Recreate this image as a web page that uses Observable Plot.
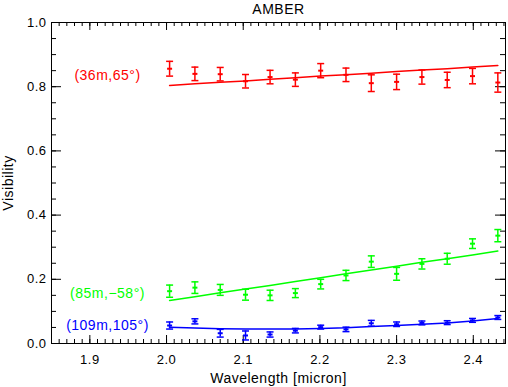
<!DOCTYPE html>
<html>
<head>
<meta charset="utf-8">
<script src="https://cdn.jsdelivr.net/npm/d3@7"></script>
<script src="https://cdn.jsdelivr.net/npm/@observablehq/plot@0.6"></script>
<style>
  html, body { margin: 0; padding: 0; background: #fff; }
  svg { font-family: "Liberation Sans", Arial, sans-serif; }
</style>
</head>
<body>
<div id="chart"></div>
<script>
// Wavelength grid (micron)
const wavelength = [2.004, 2.037, 2.070, 2.103, 2.135, 2.168, 2.201, 2.234, 2.267, 2.300, 2.333, 2.366, 2.399, 2.432];

// Series labels and colors
const seriesNames = ["(36m,65°)", "(85m,−58°)", "(109m,105°)"];
const seriesColors = ["#ff0000", "#00ff00", "#0000ff"];
const labelX = [1.923, 1.923, 1.923];
const labelY = [0.835, 0.156, 0.056];

// Measured visibilities and errors
const visRed   = [0.856, 0.840, 0.839, 0.817, 0.830, 0.822, 0.850, 0.837, 0.811, 0.815, 0.830, 0.821, 0.833, 0.813];
const errRed   = [0.023, 0.021, 0.021, 0.021, 0.021, 0.021, 0.022, 0.021, 0.026, 0.024, 0.022, 0.024, 0.024, 0.030];
const visGreen = [0.163, 0.174, 0.167, 0.152, 0.150, 0.157, 0.185, 0.212, 0.255, 0.217, 0.248, 0.264, 0.311, 0.336];
const errGreen = [0.019, 0.018, 0.017, 0.017, 0.016, 0.014, 0.015, 0.016, 0.018, 0.020, 0.016, 0.017, 0.015, 0.019];
const visBlue  = [0.056, 0.069, 0.032, 0.025, 0.028, 0.040, 0.051, 0.044, 0.063, 0.060, 0.064, 0.065, 0.072, 0.081];
const errBlue  = [0.011, 0.008, 0.012, 0.014, 0.008, 0.007, 0.006, 0.007, 0.009, 0.007, 0.006, 0.006, 0.006, 0.006];

// Model curves
const modelRed   = [0.804, 0.809, 0.814, 0.818, 0.823, 0.828, 0.833, 0.837, 0.842, 0.847, 0.852, 0.856, 0.861, 0.866];
const modelGreen = [0.134, 0.146, 0.158, 0.170, 0.181, 0.193, 0.205, 0.217, 0.229, 0.241, 0.253, 0.264, 0.276, 0.288];
const modelBlue  = [0.051, 0.048, 0.046, 0.045, 0.045, 0.045, 0.047, 0.049, 0.053, 0.056, 0.060, 0.064, 0.070, 0.078];

// Axis ticks
const xMajor = [1.9, 2.0, 2.1, 2.2, 2.3, 2.4];
const xMinor = d3.range(186, 245).map(d => d / 100);
const yMajor = [0.0, 0.2, 0.4, 0.6, 0.8, 1.0];
const yMinor = d3.range(0, 21).map(d => d / 20);

const vis = [visRed, visGreen, visBlue];
const err = [errRed, errGreen, errBlue];
const model = [modelRed, modelGreen, modelBlue];

const points = [];
const lines = [];
seriesNames.forEach((s, i) => {
  wavelength.forEach((w, j) => {
    points.push({s, w, v: vis[i][j], e: err[i][j]});
    lines.push({s, w, v: model[i][j]});
  });
});
const labels = seriesNames.map((s, i) => ({s, x: labelX[i], y: labelY[i]}));

const W = 508, H = 387;
const mL = 51, mR = 3, mT = 22, mB = 44;
const fw = W - mL - mR, fh = H - mT - mB;

const hbar = {draw(context, size) { const r = Math.sqrt(size / Math.PI); context.moveTo(-r, 0); context.lineTo(r, 0); }};

const chart = Plot.plot({
  width: W, height: H,
  marginLeft: mL, marginRight: mR, marginTop: mT, marginBottom: mB,
  style: {fontFamily: "Liberation Sans, Arial, sans-serif", fontSize: "13px", color: "black", background: "white"},
  x: {domain: [1.85, 2.442]},
  y: {domain: [0, 1.0]},
  color: {domain: seriesNames, range: seriesColors},
  marks: [
    // inward ticks
    Plot.ruleX(xMinor, {x: d => d, insetTop: fh - 4, stroke: "black"}),
    Plot.ruleX(xMinor, {x: d => d, insetBottom: fh - 4, stroke: "black"}),
    Plot.ruleX(xMajor, {x: d => d, insetTop: fh - 8, stroke: "black"}),
    Plot.ruleX(xMajor, {x: d => d, insetBottom: fh - 8, stroke: "black"}),
    Plot.ruleY(yMinor, {y: d => d, insetRight: fw - 5, stroke: "black"}),
    Plot.ruleY(yMinor, {y: d => d, insetLeft: fw - 5, stroke: "black"}),
    Plot.ruleY(yMajor, {y: d => d, insetRight: fw - 10, stroke: "black"}),
    Plot.ruleY(yMajor, {y: d => d, insetLeft: fw - 10, stroke: "black"}),
    Plot.axisX({ticks: xMajor, tickSize: 0, tickPadding: 11, tickFormat: d3.format(".1f"), label: null, fontSize: 13}),
    Plot.axisY({ticks: yMajor, tickSize: 0, tickPadding: 5, tickFormat: d3.format(".1f"), label: null, fontSize: 13}),
    Plot.frame({stroke: "black"}),
    // model curves
    Plot.line(lines, {x: "w", y: "v", z: "s", stroke: "s", strokeWidth: 1.5}),
    // error bars
    Plot.ruleX(points, {x: "w", y1: d => d.v - d.e, y2: d => d.v + d.e, stroke: "s", strokeWidth: 1.5}),
    Plot.dot(points, {x: "w", y: d => d.v + d.e, symbol: hbar, r: 3.5, stroke: "s", fill: "none", strokeWidth: 1.5}),
    Plot.dot(points, {x: "w", y: d => d.v - d.e, symbol: hbar, r: 3.5, stroke: "s", fill: "none", strokeWidth: 1.5}),
    Plot.dot(points, {x: "w", y: "v", symbol: hbar, r: 2.5, stroke: "s", fill: "none", strokeWidth: 2}),
    // series labels
    Plot.text(labels, {x: "x", y: "y", text: "s", fill: "s", fontSize: 14, textAnchor: "middle", lineAnchor: "middle"}),
    // titles
    Plot.text(["AMBER"], {frameAnchor: "top", dy: -13, text: d => d, fontSize: 14, fill: "black", lineAnchor: "middle", textAnchor: "middle"}),
    Plot.text(["Wavelength [micron]"], {frameAnchor: "bottom", dy: 35, text: d => d, fontSize: 14, fill: "black", lineAnchor: "middle", textAnchor: "middle"}),
    Plot.text(["Visibility"], {frameAnchor: "left", dx: -43, rotate: -90, text: d => d, fontSize: 14, fill: "black", lineAnchor: "middle", textAnchor: "middle"})
  ]
});
chart.style.letterSpacing = "0.5px";
document.getElementById("chart").appendChild(chart);
</script>
</body>
</html>
